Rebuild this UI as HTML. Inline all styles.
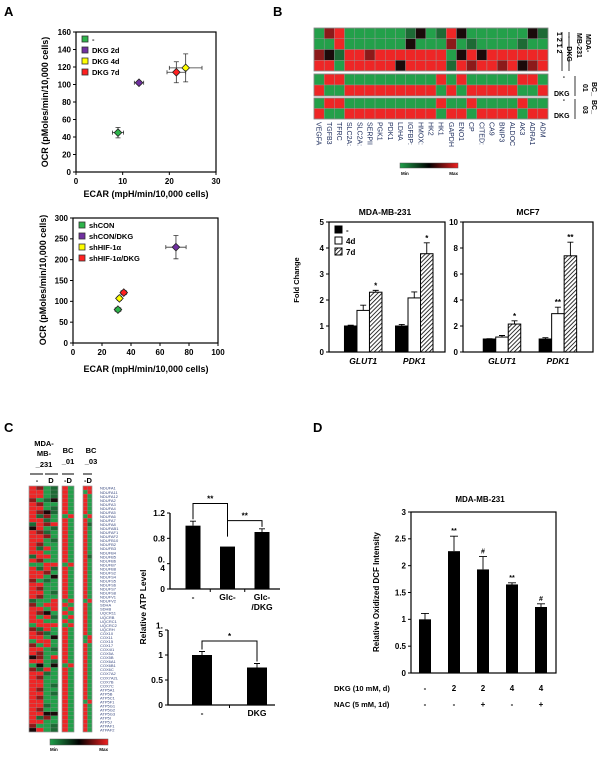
<!DOCTYPE html>
<html><head><meta charset="utf-8"><style>
html,body{margin:0;padding:0;background:#fff;}
svg{display:block;font-family:"Liberation Sans",Arial,sans-serif;}
.b{font-weight:bold;}
</style></head><body>
<svg id="fig" width="600" height="762" viewBox="0 0 600 762" xmlns="http://www.w3.org/2000/svg">
<defs>
<pattern id="hatch" patternUnits="userSpaceOnUse" width="3" height="3" patternTransform="rotate(45)">
<rect width="3" height="3" fill="#fff"/><line x1="0" y1="0" x2="0" y2="3" stroke="#000" stroke-width="1.6"/>
</pattern>
<linearGradient id="hmgrad" x1="0" x2="1" y1="0" y2="0">
<stop offset="0" stop-color="#1fa04a"/><stop offset="0.5" stop-color="#000"/><stop offset="1" stop-color="#f02020"/>
</linearGradient>
</defs>
<text x="4" y="16" class="b" font-size="13">A</text>
<text x="273" y="16" class="b" font-size="13">B</text>
<text x="4" y="432" class="b" font-size="13">C</text>
<text x="313" y="432" class="b" font-size="13">D</text>

<text x="146" y="197" class="b" font-size="9" text-anchor="middle">ECAR (mpH/min/10,000 cells)</text>
<text transform="translate(48,102) rotate(-90)" class="b" font-size="9" text-anchor="middle">OCR (pMoles/min/10,000 cells)</text>
<text x="146" y="372" class="b" font-size="9" text-anchor="middle">ECAR (mpH/min/10,000 cells)</text>
<text transform="translate(46,280) rotate(-90)" class="b" font-size="9" text-anchor="middle">OCR (pMoles/min/10,000 cells)</text>

<text x="385" y="215" class="b" font-size="8.5" text-anchor="middle">MDA-MB-231</text>
<text x="528" y="215" class="b" font-size="8.5" text-anchor="middle">MCF7</text>
<text transform="translate(299,280) rotate(-90)" class="b" font-size="7.5" text-anchor="middle">Fold Change</text>
<rect x="400" y="163" width="58" height="5" fill="url(#hmgrad)" stroke="#555" stroke-width="0.5"/>
<text x="401" y="175" class="b" font-size="4.5">Min</text>
<text x="458" y="175" class="b" font-size="4.5" text-anchor="end">Max</text>

<g class="b" font-size="7">
<text transform="translate(586,34) rotate(90)">MDA-</text>
<text transform="translate(577,33) rotate(90)">MB-231</text>
<text transform="translate(567,36) rotate(90)">- <tspan dx="6">DKG</tspan></text>
<text transform="translate(557,32) rotate(90)">1 2 1 2</text>
<line x1="569" y1="32" x2="569" y2="71" stroke="#000" stroke-width="0.8"/>
<line x1="562" y1="32" x2="562" y2="48" stroke="#000" stroke-width="0.8"/>
<line x1="562" y1="52" x2="562" y2="71" stroke="#000" stroke-width="0.8"/>
<text transform="translate(592,82) rotate(90)">BC_</text>
<text transform="translate(583,84) rotate(90)">01</text>
<text transform="translate(562,76) rotate(90)">-</text>
<text x="554" y="96">DKG</text>
<line x1="575" y1="76" x2="575" y2="96" stroke="#000" stroke-width="0.8"/>
<text transform="translate(592,100) rotate(90)">BC_</text>
<text transform="translate(583,106) rotate(90)">03</text>
<text transform="translate(562,99) rotate(90)">-</text>
<text x="554" y="118">DKG</text>
<line x1="575" y1="99" x2="575" y2="119" stroke="#000" stroke-width="0.8"/>
</g>

<g class="b" font-size="7.5" text-anchor="middle">
<text x="44" y="446">MDA-</text><text x="44" y="456">MB-</text><text x="44" y="467">_231</text>
<text x="68" y="453">BC</text><text x="68" y="464">_01</text>
<text x="91" y="453">BC</text><text x="91" y="464">_03</text>
<line x1="30" y1="474" x2="43" y2="474" stroke="#000"/><line x1="45" y1="474" x2="58" y2="474" stroke="#000"/>
<line x1="62" y1="474" x2="74" y2="474" stroke="#000"/><line x1="83" y1="474" x2="92" y2="474" stroke="#000"/>
<text x="37" y="483">-</text><text x="51" y="483">D</text><text x="68" y="483">-D</text><text x="88" y="483">-D</text>
</g>
<rect x="50" y="739" width="58" height="6" fill="url(#hmgrad)" stroke="#555" stroke-width="0.5"/>
<text x="50" y="751" class="b" font-size="4.5">Min</text>
<text x="108" y="751" class="b" font-size="4.5" text-anchor="end">Max</text>
<text transform="translate(146,607) rotate(-90)" class="b" font-size="8.5" text-anchor="middle">Relative ATP Level</text>

<text x="480" y="502" class="b" font-size="8" text-anchor="middle">MDA-MB-231</text>
<text transform="translate(379,592) rotate(-90)" class="b" font-size="8" text-anchor="middle">Relative Oxidized DCF Intensity</text>
<text x="334" y="691" class="b" font-size="7.5">DKG (10 mM, d)</text>
<text x="334" y="707" class="b" font-size="7.5">NAC (5 mM, 1d)</text>
</svg>
<script>
const a1Labels = ["-", "DKG 2d", "DKG 4d", "DKG 7d"];
const a1Colors = ["#2db34a", "#7030a0", "#ffff00", "#ff2020"];
const a1X = [9, 13.5, 23.5, 21.5];
const a1Y = [45, 102, 119, 114];
const a1Xerr = [1.2, 1, 3.5, 2];
const a1Yerr = [6, 2, 16, 12];
const a1XTicks = [0, 10, 20, 30];
const a1YTicks = [0, 20, 40, 60, 80, 100, 120, 140, 160];
const a2Labels = ["shCON", "shCON/DKG", "shHIF-1\u03b1", "shHIF-1\u03b1/DKG"];
const a2Colors = ["#2db34a", "#7030a0", "#ffff00", "#ff2020"];
const a2X = [31, 71, 32, 35];
const a2Y = [80, 230, 107, 121];
const a2Xerr = [2, 7, 1.5, 2];
const a2Yerr = [5, 28, 5, 5];
const a2XTicks = [0, 20, 40, 60, 80, 100];
const a2YTicks = [0, 50, 100, 150, 200, 250, 300];
const bGenes = ["VEGFA","TGFB3","TFRC","SLC2A1","SLC2A3","SERPINE1","PGK1","PDK1","LDHA","IGFBP3","HMOX1","HK2","HK1","GAPDH","ENO1","CP","CITED2","CA9","BNIP3","ALDOC","AK3","ADRA1","ADM"];
const bGeneShown = ["VEGFA","TGFB3","TFRC","SLC2A:","SLC2A:","SERPII","PGK1","PDK1","LDHA","IGFBP:","HMOX:","HK2","HK1","GAPDH","ENO1","CP","CITED:","CA9","BNIP3","ALDOC","AK3","ADRA1","ADM"];
const bRowsG1 = ["gdrggggggGkgGrkggggggkG","ggrggggggkgggdgGggggGgg","dkGrrdrrrrrrrgkrkrrrrrr","rrgrrrrrkrrrrGrdrrdrkdr"];
const bRowsG2 = ["grrgggggggggrgrgggggrrg","rggrrrrrrrrrgrgrrrrrggr"];
const bRowsG3 = ["grrgggggggggrggrggggrgg","rggrrrrrrrrrgrrgrrrrgrr"];
const bCats = ["GLUT1", "PDK1"];
const bSeries = ["-", "4d", "7d"];
const bMdaVals = [[1.0, 1.6, 2.3], [1.0, 2.08, 3.78]];
const bMdaErr = [[0.03, 0.2, 0.07], [0.06, 0.23, 0.42]];
const bMdaStars = [["", "", "*"], ["", "", "*"]];
const bMdaTicks = [0, 1, 2, 3, 4, 5];
const bMcfVals = [[1.0, 1.15, 2.15], [1.0, 2.95, 7.4]];
const bMcfErr = [[0.02, 0.12, 0.25], [0.1, 0.5, 1.05]];
const bMcfStars = [["", "", "*"], ["", "**", "**"]];
const bMcfTicks = [0, 2, 4, 6, 8, 10];
const cGenes = ["NDUFA1","NDUFA11","NDUFA12","NDUFA2","NDUFA3","NDUFA4","NDUFA5","NDUFA6","NDUFA7","NDUFA8","NDUFAB1","NDUFAF1","NDUFAF2","NDUFB10","NDUFB2","NDUFB3","NDUFB4","NDUFB5","NDUFB6","NDUFB7","NDUFB8","NDUFS2","NDUFS4","NDUFS5","NDUFS6","NDUFS7","NDUFS8","NDUFV1","NDUFV2","SDHA","SDHB","UQCR11","UQCRB","UQCRC1","UQCRC2","UQCRH","COX10","COX11","COX15","COX17","COX4I1","COX5A","COX5B","COX6A1","COX6B1","COX6C","COX7A2","COX7A2L","COX7B","COX7C","ATP5A1","ATP5B","ATP5C1","ATP5F1","ATP5G1","ATP5G2","ATP5G3","ATP5I","ATP5J","ATPAF1","ATPAF2"];
const cRows = ["rdgGrgrr","rrgGrggr","rrgGrgrg","dgGkrgrg","rdggrgrg","rrgGrgrg","rdkGrgrg","rGdggrgr","rrGgrgrg","GrdrrgrG",
"krgGrgrg","rdGgrgrg","rrdgrgrg","rrgGrgrg","rdggrgrg","rGrgrgrg","rrggrgrg","GrrgrgrG","rdggrgrg","ggrrgrrg",
"rGrGrgrg","rrdgrgrg","rrgkrgrg","dgGgrgrg","rrggrgrg","rdggrgrg","rrgGrgrg","rdggrgrg","Gggrgrgr","dgrrrgrg",
"rrgrgrrg","rdkgrgrg","rgrGgrrg","rrggrgrg","grrrgrrg","dGrgrgrg","rdGgrgrg","rrgkrggr","grrgrggr","dgrgrgrg",
"rrgGrgrg","rdggrgrg","kdgrrgrg","rrgGrgrg","gkgkgrrg","dGrgrgrg","rrGgrgrg","rdggrgrg","rrggrgrg","rrgGrgrg",
"rdggrgrg","rrgGrgrg","rdggrgrg","rrggrggr","rrGgrgrg","rdggrgrg","rrkkrgrg","rGdgrgrg","rrggrgrg","dggGrgrg","krgGrgrg"];
const atp1Cats = ["-", "Glc-", "Glc-/DKG"];
const atp1Vals = [1.0, 0.67, 0.9];
const atp1Err = [0.07, 0, 0.05];
const atp1TickVals = [0, 0.4, 0.8, 1.2];
const atp1TickLabels = ["0", "0.\n4", "0.8", "1.2"];
const atp2Cats = ["-", "DKG"];
const atp2Vals = [1.0, 0.75];
const atp2Err = [0.07, 0.08];
const atp2TickVals = [0, 0.5, 1, 1.5];
const atp2TickLabels = ["0", "0.5", "1", "1.\n5"];
const dDkg = ["-", "2", "2", "4", "4"];
const dNac = ["-", "-", "+", "-", "+"];
const dVals = [1.0, 2.27, 1.93, 1.65, 1.23];
const dErr = [0.11, 0.28, 0.24, 0.03, 0.06];
const dStars = ["", "**", "#", "**", "#"];
const dTicks = [0, 0.5, 1, 1.5, 2, 2.5, 3];

const NS = "http://www.w3.org/2000/svg";
const svg = document.getElementById("fig");
function mk(tag, attrs, parent) {
  const e = document.createElementNS(NS, tag);
  for (const k in attrs) e.setAttribute(k, attrs[k]);
  (parent || svg).appendChild(e);
  return e;
}
function lin(d0, d1, r0, r1) { return v => r0 + (v - d0) * (r1 - r0) / (d1 - d0); }
const colMap = { g: "#23a04a", G: "#1d6a35", r: "#ee2626", d: "#8c1a1a", k: "#1a0a0a" };

function yTicks(g, ticks, labels, sy, x, fs) {
  ticks.forEach((t, i) => {
    const ln = mk("line", { x1: x - 3, x2: x, y1: sy(t), y2: sy(t), stroke: "#000", "stroke-width": 1 }, g);
    
    
    const parts = String(labels[i]).split("\n");
    const tx = mk("text", { x: x - 5, y: sy(t) + fs * 0.35 - (parts.length - 1) * fs * 0.5, "text-anchor": "end", "font-size": fs, "font-weight": "bold" }, g);
    
    
    parts.forEach((p, j) => { const ts = mk("tspan", { x: x - 5, dy: j ? fs : 0 }, tx); ts.textContent = p; });
  });
}
function xTicks(g, ticks, sx, y, fs) {
  ticks.forEach(t => {
    const ln = mk("line", { x1: sx(t), x2: sx(t), y1: y, y2: y + 3, stroke: "#000" }, g);
    
    
    const tx = mk("text", { x: sx(t), y: y + 4 + fs, "text-anchor": "middle", "font-size": fs, "font-weight": "bold" }, g);
    
    
    tx.textContent = t;
  });
}
function errBar(g, x, y0, y1, cap) {
  const e = mk("path", { d: `M${x},${y0}V${y1}M${x - cap},${y1}H${x + cap}`, stroke: "#000", "stroke-width": 0.9, fill: "none" }, g);
  
  
}

function scatter(name, box, xd, yd, xt, yt, X, Y, Xe, Ye, labels, colors, leg) {
  const g = mk("g", {});
  
  
  const sx = lin(xd[0], xd[1], box.x0, box.x1), sy = lin(yd[0], yd[1], box.y1, box.y0);
  const fr = mk("rect", { x: box.x0, y: box.y0, width: box.x1 - box.x0, height: box.y1 - box.y0, fill: "none", stroke: "#000", "stroke-width": 1.2 }, g);
  
  
  yTicks(g, yt, yt, sy, box.x0, 8);
  xTicks(g, xt, sx, box.y1, 8);
  X.forEach((v, i) => {
    const cx = sx(v), cy = sy(Y[i]);
    const w = sx(v + Xe[i]) - cx, h = cy - sy(Y[i] + Ye[i]);
    const eb = mk("path", { d: `M${cx - w},${cy}H${cx + w}M${cx - w},${cy - 2}V${cy + 2}M${cx + w},${cy - 2}V${cy + 2}M${cx},${cy - h}V${cy + h}M${cx - 2.5},${cy - h}H${cx + 2.5}M${cx - 2.5},${cy + h}H${cx + 2.5}`, stroke: "#333", "stroke-width": 0.8, fill: "none" }, g);
    
    
    const p = mk("path", { d: `M${cx},${cy - 3.8}L${cx + 3.8},${cy}L${cx},${cy + 3.8}L${cx - 3.8},${cy}Z`, fill: colors[i], stroke: "#222", "stroke-width": 0.8 }, g);
    
    
  });
  labels.forEach((l, i) => {
    const r = mk("rect", { x: leg.x, y: leg.y + i * leg.dy, width: 6, height: 6, fill: colors[i], stroke: "#333", "stroke-width": 0.8 }, g);
    
    
    const t = mk("text", { x: leg.x + 10, y: leg.y + i * leg.dy + 6, "font-size": 7.5, "font-weight": "bold" }, g);
    
    
    t.textContent = l;
  });
}
scatter("a1-scatter", { x0: 76, x1: 216, y0: 32, y1: 172 }, [0, 30], [0, 160], a1XTicks, a1YTicks, a1X, a1Y, a1Xerr, a1Yerr, a1Labels, a1Colors, { x: 82, y: 36, dy: 11 });
scatter("a2-scatter", { x0: 73, x1: 218, y0: 218, y1: 343 }, [0, 100], [0, 300], a2XTicks, a2YTicks, a2X, a2Y, a2Xerr, a2Yerr, a2Labels, a2Colors, { x: 79, y: 222, dy: 11 });

(function () {
  const g = mk("g", {});
  
  
  const x0 = 314, cw = (548 - 314) / bGenes.length;
  const groups = [[bRowsG1, 28, 71], [bRowsG2, 74, 96], [bRowsG3, 98, 119]];
  groups.forEach(([rows, y0, y1]) => {
    const ch = (y1 - y0) / rows.length;
    rows.forEach((row, r) => {
      bGenes.forEach((gn, c) => {
        const cell = mk("rect", { x: x0 + c * cw, y: y0 + r * ch, width: cw, height: ch, fill: colMap[row[c]] || "#23a04a", stroke: "#999", "stroke-width": 0.4 }, g);
        
        
      });
    });
    const fr = mk("rect", { x: x0, y: y0, width: 548 - x0, height: y1 - y0, fill: "none", stroke: "#888", "stroke-width": 0.8 }, g);
    
    
  });
  bGeneShown.forEach((gn, c) => {
    const cx = x0 + (c + 0.5) * cw - 2.5;
    const t = mk("text", { transform: `translate(${cx},122) rotate(90)`, "font-size": 7, fill: "#1a2a5a" }, g);
    
    
    t.textContent = gn;
  });
})();

function groupBars(name, box, ymax, ticks, vals, errs, stars, centers) {
  const g = mk("g", {});
  
  
  const sy = lin(0, ymax, box.y1, box.y0);
  const fr = mk("rect", { x: box.x0, y: box.y0, width: box.x1 - box.x0, height: box.y1 - box.y0, fill: "none", stroke: "#000", "stroke-width": 1.2 }, g);
  
  
  yTicks(g, ticks, ticks, sy, box.x0, 8);
  const fills = ["#000", "#fff", "url(#hatch)"];
  const bw = 12.5;
  vals.forEach((grp, ci) => {
    const gc = box.x0 + (box.x1 - box.x0) * (centers[0] + ci * centers[1]);
    grp.forEach((v, si) => {
      const bx = gc + (si - 1.5) * bw;
      errBar(g, bx + bw / 2, sy(v), sy(v + errs[ci][si]), 3);
      const b = mk("rect", { x: bx, y: sy(v), width: bw, height: box.y1 - sy(v), fill: fills[si], stroke: "#000", "stroke-width": 1 }, g);
      
      
      if (stars[ci][si]) {
        const s = mk("text", { x: bx + bw / 2, y: sy(v + errs[ci][si]) - 2, "text-anchor": "middle", "font-size": 8, "font-weight": "bold" }, g);
        
        
        s.textContent = stars[ci][si];
      }
    });
    const lb = mk("text", { x: gc, y: box.y1 + 12, "text-anchor": "middle", "font-size": 8.5, "font-weight": "bold", "font-style": "italic" }, g);
    
    
    lb.textContent = bCats[ci];
  });
  return g;
}
const gMda = groupBars("b-mda-bars", { x0: 329, x1: 445, y0: 222, y1: 352 }, 5, bMdaTicks, bMdaVals, bMdaErr, bMdaStars, [0.295, 0.44]);
groupBars("b-mcf7-bars", { x0: 463, x1: 593, y0: 222, y1: 352 }, 10, bMcfTicks, bMcfVals, bMcfErr, bMcfStars, [0.3, 0.43]);
["#000", "#fff", "url(#hatch)"].forEach((f, i) => {
  const r = mk("rect", { x: 335, y: 226 + i * 11, width: 7, height: 7, fill: f, stroke: "#000" }, gMda);
  
  
  const t = mk("text", { x: 346, y: 233 + i * 11, "font-size": 8, "font-weight": "bold" }, gMda);
  
  
  t.textContent = bSeries[i];
});

(function () {
  const g = mk("g", {});
  
  
  const y0 = 486, y1 = 732, ch = (y1 - y0) / cGenes.length;
  const blocks = [[29, 58, 0, 4], [62, 74, 4, 2], [83, 92, 6, 2]];
  cGenes.forEach((gn, r) => {
    const row = cRows[r] || "rrggrgrg";
    blocks.forEach(([bx0, bx1, off, n]) => {
      const cw = (bx1 - bx0) / n;
      for (let c = 0; c < n; c++) {
        const cell = mk("rect", { x: bx0 + c * cw, y: y0 + r * ch, width: cw, height: ch, fill: colMap[row[off + c]], stroke: "#888", "stroke-width": 0.25 }, g);
        
        
      }
    });
    const t = mk("text", { x: 100, y: y0 + r * ch + ch - 0.3, "font-size": 4, fill: "#3a4a80" }, g);
    
    
    t.textContent = gn;
  });
  blocks.forEach(([bx0, bx1]) => {
    const fr = mk("rect", { x: bx0, y: y0, width: bx1 - bx0, height: y1 - y0, fill: "none", stroke: "#999", "stroke-width": 0.6 }, g);
    
    
  });
})();

function simpleBars(name, ax, ymax, tickVals, tickLabels, cats, vals, errs, centers, bw, labelY) {
  const g = mk("g", {});
  
  
  const sy = lin(0, ymax, ax.y1, ax.y0);
  const a = mk("path", { d: `M${ax.x0},${ax.y0}V${ax.y1}H${ax.x1}`, stroke: "#000", "stroke-width": 1.3, fill: "none" }, g);
  
  
  yTicks(g, tickVals, tickLabels, sy, ax.x0, 8.5);
  vals.forEach((v, i) => {
    const cx = centers[i];
    if (errs[i]) errBar(g, cx, sy(v), sy(v + errs[i]), 3);
    const b = mk("rect", { x: cx - bw / 2, y: sy(v), width: bw, height: ax.y1 - sy(v), fill: "#000" }, g);
    
    
    const parts = cats[i].split("/");
    const t = mk("text", { x: cx, y: labelY, "text-anchor": "middle", "font-size": 8.5, "font-weight": "bold" }, g);
    
    
    parts.forEach((p, j) => { const ts = mk("tspan", { x: cx, dy: j ? 10 : 0 }, t); ts.textContent = j ? "/" + p : p; });
  });
  for (let i = 0; i < vals.length - 1; i++) {
    const tx = (centers[i] + centers[i + 1]) / 2;
    const tk = mk("line", { x1: tx, x2: tx, y1: ax.y1, y2: ax.y1 + 3, stroke: "#000" }, g);
    
    
  }
  return { g, sy };
}
const atp1Centers = atp1Cats.map((c, i) => 193 + i * 34.5);
const r1 = simpleBars("c-atp-bars-top", { x0: 170, x1: 280, y0: 513, y1: 589 }, 1.2, atp1TickVals, atp1TickLabels, atp1Cats, atp1Vals, atp1Err, atp1Centers, 15, 600);
(function () {
  const y1 = r1.sy(1.35), y2 = r1.sy(1.08);
  const b1 = mk("path", { d: `M${atp1Centers[0]},${r1.sy(atp1Vals[0] + atp1Err[0]) - 2}V${y1}H${atp1Centers[1]}V${r1.sy(atp1Vals[1]) - 10}`, stroke: "#000", fill: "none", "stroke-width": 1 }, r1.g);
  
  
  const b2 = mk("path", { d: `M${atp1Centers[1]},${y2}H${atp1Centers[2]}V${r1.sy(atp1Vals[2] + atp1Err[2]) - 2}`, stroke: "#000", fill: "none", "stroke-width": 1 }, r1.g);
  
  
  [[(atp1Centers[0] + atp1Centers[1]) / 2, y1 - 2], [(atp1Centers[1] + atp1Centers[2]) / 2, y2 - 2]].forEach(([x, y]) => {
    const s = mk("text", { x: x, y: y, "text-anchor": "middle", "font-size": 8, "font-weight": "bold" }, r1.g);
    
    
    s.textContent = "**";
  });
})();
const atp2Centers = atp2Cats.map((c, i) => 202 + i * 55);
const r2 = simpleBars("c-atp-bars-bottom", { x0: 168, x1: 275, y0: 630, y1: 705 }, 1.5, atp2TickVals, atp2TickLabels, atp2Cats, atp2Vals, atp2Err, atp2Centers, 20, 716);
(function () {
  const yb = r2.sy(1.28);
  const b = mk("path", { d: `M${atp2Centers[0]},${r2.sy(atp2Vals[0] + atp2Err[0]) - 2}V${yb}H${atp2Centers[1]}V${r2.sy(atp2Vals[1] + atp2Err[1]) - 2}`, stroke: "#000", fill: "none", "stroke-width": 1 }, r2.g);
  
  
  const s = mk("text", { x: (atp2Centers[0] + atp2Centers[1]) / 2, y: yb - 2, "text-anchor": "middle", "font-size": 8, "font-weight": "bold" }, r2.g);
  
  
  s.textContent = "*";
})();

(function () {
  const g = mk("g", {});
  
  
  const box = { x0: 411, x1: 556, y0: 512, y1: 673 };
  const sy = lin(0, 3, box.y1, box.y0);
  const fr = mk("rect", { x: box.x0, y: box.y0, width: box.x1 - box.x0, height: box.y1 - box.y0, fill: "none", stroke: "#000", "stroke-width": 1.2 }, g);
  
  
  yTicks(g, dTicks, dTicks, sy, box.x0, 8);
  dVals.forEach((v, i) => {
    const cx = 425 + i * 29;
    errBar(g, cx, sy(v), sy(v + dErr[i]), 4);
    const b = mk("rect", { x: cx - 6, y: sy(v), width: 12, height: box.y1 - sy(v), fill: "#000" }, g);
    
    
    if (dStars[i]) {
      const s = mk("text", { x: cx, y: sy(v + dErr[i]) - 3, "text-anchor": "middle", "font-size": 7, "font-weight": "bold" }, g);
      
      
      s.textContent = dStars[i];
    }
    const t1 = mk("text", { x: cx, y: 691, "text-anchor": "middle", "font-size": 8, "font-weight": "bold" }, g);
    
    
    t1.textContent = dDkg[i];
    const t2 = mk("text", { x: cx, y: 707, "text-anchor": "middle", "font-size": 8, "font-weight": "bold" }, g);
    
    
    t2.textContent = dNac[i];
  });
})();
</script>
</body></html>
